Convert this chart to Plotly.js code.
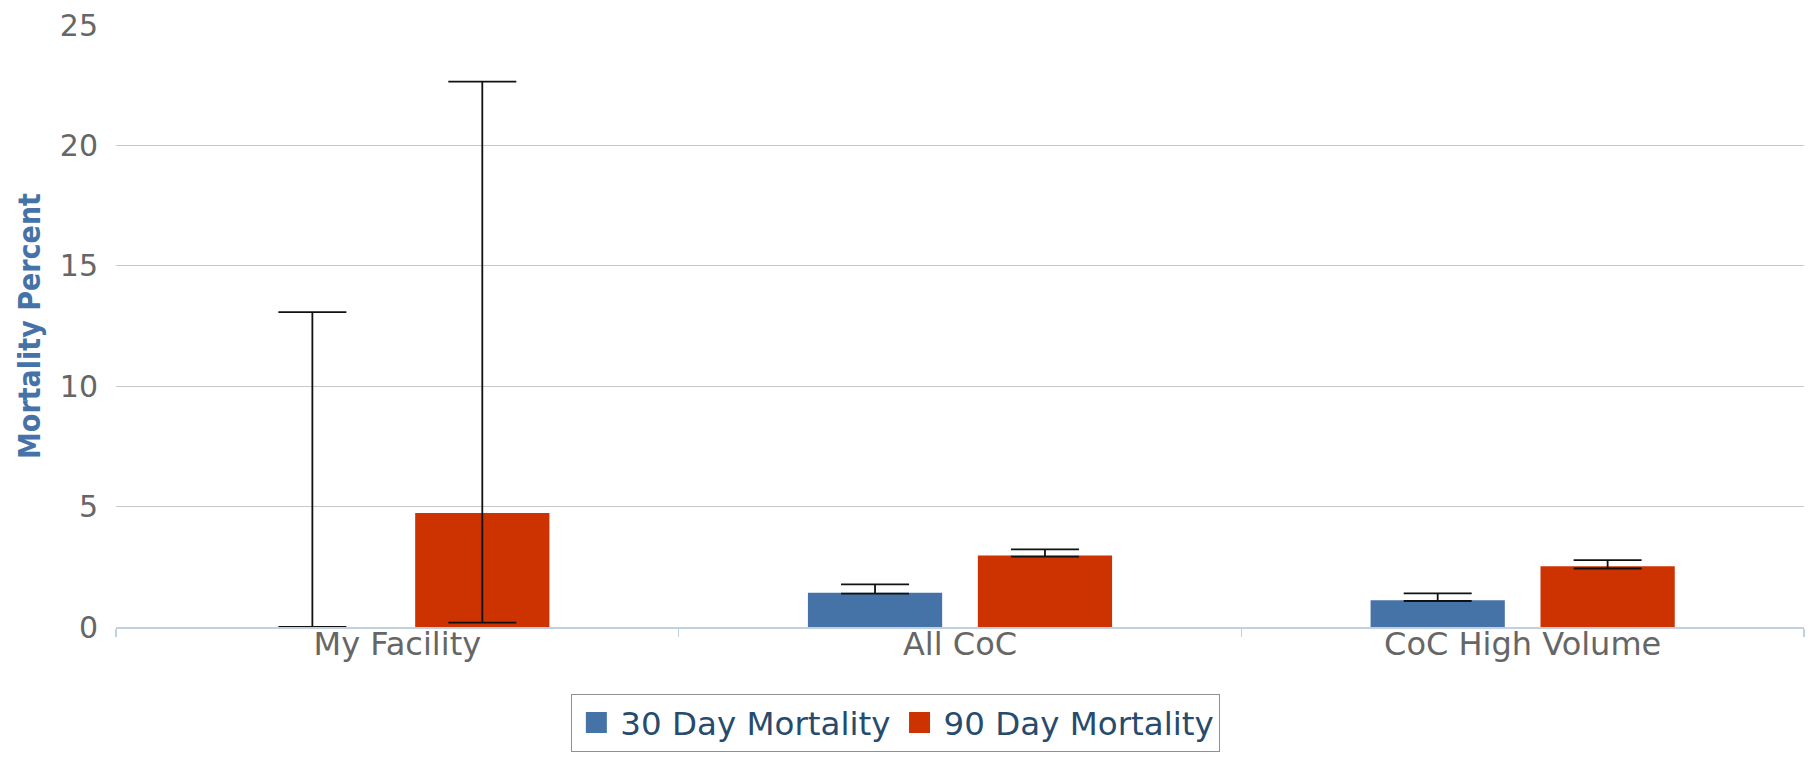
<!DOCTYPE html>
<html>
<head>
<meta charset="utf-8">
<script src="https://cdn.plot.ly/plotly-3.0.1.min.js"></script>
<style>
  html, body { margin: 0; padding: 0; background: #ffffff; }
  #chart { width: 1811px; height: 759px; }
</style>
</head>
<body>
<div id="chart"></div>
<script>
// Data
const categories = ["My Facility", "All CoC", "CoC High Volume"];
const mort30 = [0, 1.42, 1.11];
const mort30Upper = [13.08, 1.77, 1.40];
const mort30Lower = [0, 1.39, 1.08];
const mort90 = [4.73, 2.97, 2.52];
const mort90Upper = [22.65, 3.22, 2.78];
const mort90Lower = [0.18, 2.92, 2.43];
const seriesNames = ["30 Day Mortality", "90 Day Mortality"];
const seriesColors = ["#4572A7", "#CC3300"];
const yTicks = [0, 5, 10, 15, 20, 25];

function plus(v, up) { return v.map((x, i) => up[i] - x); }
function minus(v, lo) { return v.map((x, i) => x - lo[i]); }

const errStyle = { type: "data", symmetric: false, color: "#111111", thickness: 1.8, width: 34 };

const traces = [
  {
    type: "bar", name: seriesNames[0], x: categories, y: mort30,
    marker: { color: seriesColors[0] }, showlegend: false,
    error_y: Object.assign({}, errStyle, { array: plus(mort30, mort30Upper), arrayminus: minus(mort30, mort30Lower) }),
    hoverinfo: "none"
  },
  {
    type: "bar", name: seriesNames[1], x: categories, y: mort90,
    marker: { color: seriesColors[1] }, showlegend: false,
    error_y: Object.assign({}, errStyle, { array: plus(mort90, mort90Upper), arrayminus: minus(mort90, mort90Lower) }),
    hoverinfo: "none"
  }
];
// legend-only entries (larger swatches)
seriesNames.forEach((n, i) => {
  traces.push({
    type: "scatter", mode: "markers", name: n, x: [categories[0]], y: [null],
    marker: { symbol: "square", size: 16, color: seriesColors[i], line: { color: seriesColors[i], width: 5 } },
    hoverinfo: "none", showlegend: true
  });
});

const layout = {
  width: 1811, height: 759,
  margin: { l: 115.5, r: 7, t: 25.4, b: 132, pad: 0 },
  paper_bgcolor: "#ffffff", plot_bgcolor: "#ffffff",
  barmode: "group", bargap: 0.396, bargroupgap: 0.21,
  font: { family: "DejaVu Sans, sans-serif", color: "#666666" },
  showlegend: true,
  legend: {
    orientation: "h", x: 0.462, xanchor: "center", y: -0.111, yanchor: "top",
    bordercolor: "#909090", borderwidth: 1, bgcolor: "#ffffff",
    font: { family: "DejaVu Sans, sans-serif", size: 32.5, color: "#274b6d" },
    itemwidth: 38, traceorder: "normal"
  },
  xaxis: {
    type: "category", automargin: false,
    showline: true, linecolor: "#C0D0E0", linewidth: 1.5,
    ticks: "outside", tickson: "boundaries", ticklen: 8, tickcolor: "#C0D0E0", tickwidth: 1.5,
    ticklabelstandoff: -12,
    showgrid: false, zeroline: false,
    tickfont: { family: "DejaVu Sans, sans-serif", size: 32, color: "#666666" },
    fixedrange: true
  },
  yaxis: {
    range: [0, 25], tickvals: yTicks, ticktext: yTicks.map(String),
    automargin: false, showline: false, ticks: "",
    showgrid: true, gridcolor: "#C8C8C8", gridwidth: 1,
    zeroline: false, ticklabelstandoff: 17,
    tickfont: { family: "DejaVu Sans, sans-serif", size: 30, color: "#666666" },
    title: { text: "Mortality Percent", standoff: 10,
      font: { family: "DejaVu Sans Condensed, DejaVu Sans, sans-serif", size: 30, color: "#4572A7", weight: "bold" } },
    fixedrange: true
  }
};

Plotly.newPlot("chart", traces, layout, { displayModeBar: false, staticPlot: true });
</script>
</body>
</html>
